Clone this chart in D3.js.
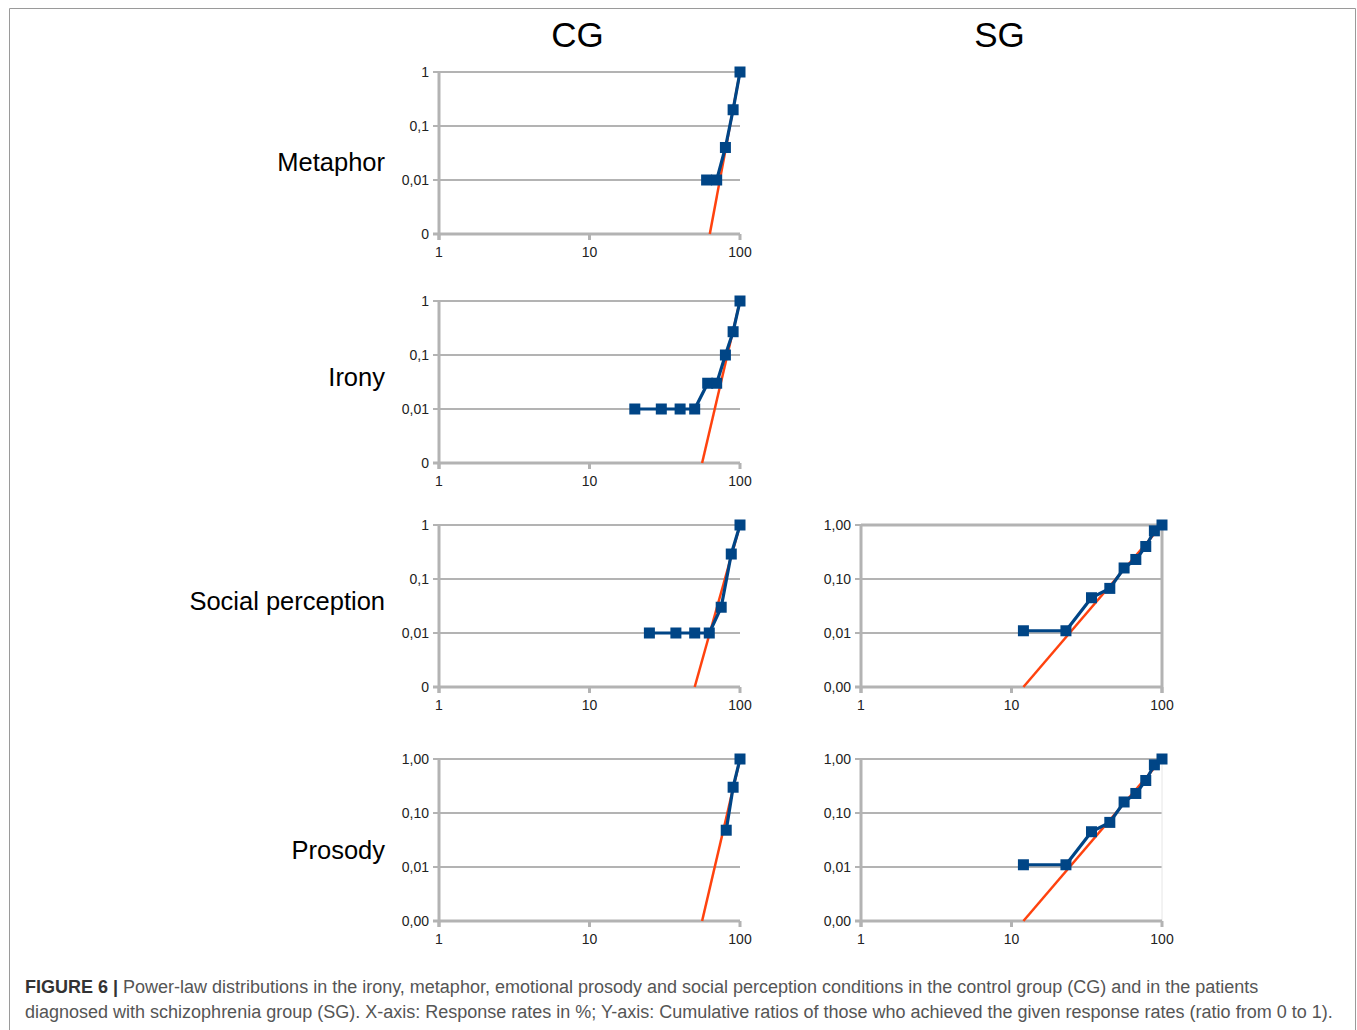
<!DOCTYPE html>
<html>
<head>
<meta charset="utf-8">
<script src="https://cdn.jsdelivr.net/npm/d3@7"></script>
<style>
  body { margin: 0; background: #fff; }
  svg { display: block; }
</style>
</head>
<body>
<svg id="fig" width="1357" height="1030"></svg>
<script>
// Response rates (%) and cumulative ratios
const metaphorCG_x = [60, 70, 80, 90, 100];
const metaphorCG_y = [0.01, 0.01, 0.04, 0.2, 1];
const metaphorCG_fit = [[63, 0.001], [100, 1]];

const ironyCG_x = [20, 30, 40, 50, 61, 70, 80, 90, 100];
const ironyCG_y = [0.01, 0.01, 0.01, 0.01, 0.03, 0.03, 0.1, 0.27, 1];
const ironyCG_fit = [[56, 0.001], [100, 1]];

const socialCG_x = [25, 37.5, 50, 62.5, 75, 87.5, 100];
const socialCG_y = [0.01, 0.01, 0.01, 0.01, 0.03, 0.29, 1];
const socialCG_fit = [[50, 0.001], [100, 1]];

const prosodyCG_x = [81, 90, 100];
const prosodyCG_y = [0.048, 0.3, 1];
const prosodyCG_fit = [[56, 0.001], [100, 1]];

const socialSG_x = [12, 23, 34, 45, 56, 67, 78, 89, 100];
const socialSG_y = [0.011, 0.011, 0.045, 0.067, 0.16, 0.23, 0.4, 0.78, 1];
const socialSG_fit = [[12, 0.001], [100, 1]];

const prosodySG_x = [12, 23, 34, 45, 56, 67, 78, 89, 100];
const prosodySG_y = [0.011, 0.011, 0.045, 0.067, 0.16, 0.23, 0.4, 0.78, 1];
const prosodySG_fit = [[12, 0.001], [100, 1]];

const xTicks = [1, 10, 100];
const xTickLabels = ["1", "10", "100"];
const yTicks = [0.001, 0.01, 0.1, 1];
const yLabelsShort = ["0", "0,01", "0,1", "1"];
const yLabelsLong = ["0,00", "0,01", "0,10", "1,00"];

const columns = ["CG", "SG"];
const rows = ["Metaphor", "Irony", "Social perception", "Prosody"];

const blue = "#004586";
const red = "#ff420e";
const gray = "#b3b3b3";

const svg = d3.select("#fig");

// outer frame of the figure
svg.append("path")
    .attr("d", "M9.5,1030 V8.5 H1355.5 V1030")
    .attr("fill", "none")
    .attr("stroke", "#9a9a9a")
    .attr("stroke-width", 1);

const colLeft = [439, 861];
const rowTop = [72, 301, 525, 759];
const pw = 301, ph = 162;

const panels = [
    {row: 0, col: 0, xs: metaphorCG_x, ys: metaphorCG_y, fit: metaphorCG_fit, labels: yLabelsShort},
    {row: 1, col: 0, xs: ironyCG_x, ys: ironyCG_y, fit: ironyCG_fit, labels: yLabelsShort},
    {row: 2, col: 0, xs: socialCG_x, ys: socialCG_y, fit: socialCG_fit, labels: yLabelsShort},
    {row: 3, col: 0, xs: prosodyCG_x, ys: prosodyCG_y, fit: prosodyCG_fit, labels: yLabelsLong},
    {row: 2, col: 1, xs: socialSG_x, ys: socialSG_y, fit: socialSG_fit, labels: yLabelsLong, frame: "thick"},
    {row: 3, col: 1, xs: prosodySG_x, ys: prosodySG_y, fit: prosodySG_fit, labels: yLabelsLong, frame: "thin"}
];

// column titles
svg.append("g")
    .attr("font-family", "Liberation Sans, Arial, sans-serif")
    .attr("font-size", 35)
    .attr("text-anchor", "middle")
    .selectAll("text")
    .data(columns)
    .join("text")
    .attr("x", (d, i) => colLeft[i] + pw / 2 - 12)
    .attr("y", 47)
    .text(d => d);

// row labels
svg.append("g")
    .attr("font-family", "Liberation Sans, Arial, sans-serif")
    .attr("font-size", 25.5)
    .attr("text-anchor", "end")
    .selectAll("text")
    .data(rows)
    .join("text")
    .attr("x", 385)
    .attr("y", (d, i) => [162, 377, 601, 850][i] + 9)
    .text(d => d);

panels.forEach(p => {
    const left = colLeft[p.col], top = rowTop[p.row];
    const x = d3.scaleLog().domain([1, 100]).range([left, left + pw]);
    const y = d3.scaleLog().domain([0.001, 1]).range([top + ph, top]);
    const g = svg.append("g");

    // horizontal gridlines (with small tick stubs left of the axis)
    g.selectAll(".grid")
        .data(yTicks.slice(1))
        .join("line")
        .attr("x1", left - 6).attr("x2", left + pw)
        .attr("y1", d => y(d)).attr("y2", d => y(d))
        .attr("stroke", gray).attr("stroke-width", 2);

    if (p.frame === "thick") {
        g.append("path")
            .attr("d", `M${left},${y(1)} H${left + pw} V${top + ph + 6}`)
            .attr("fill", "none").attr("stroke", gray).attr("stroke-width", 3);
    } else if (p.frame === "thin") {
        g.append("line")
            .attr("x1", left + pw).attr("x2", left + pw)
            .attr("y1", top).attr("y2", top + ph)
            .attr("stroke", "#e6e6e6").attr("stroke-width", 1);
    }

    // x axis with ticks
    g.append("line")
        .attr("x1", left - 6).attr("x2", left + pw)
        .attr("y1", top + ph).attr("y2", top + ph)
        .attr("stroke", gray).attr("stroke-width", 3);
    g.selectAll(".xt")
        .data(xTicks)
        .join("line")
        .attr("x1", d => x(d)).attr("x2", d => x(d))
        .attr("y1", top + ph).attr("y2", top + ph + 6)
        .attr("stroke", gray).attr("stroke-width", 3);
    // y axis
    g.append("line")
        .attr("x1", left).attr("x2", left)
        .attr("y1", top).attr("y2", top + ph + 6)
        .attr("stroke", gray).attr("stroke-width", 3);

    // tick labels
    g.append("g")
        .attr("font-family", "Liberation Sans, Arial, sans-serif")
        .attr("font-size", 14)
        .attr("fill", "#222")
        .attr("text-anchor", "middle")
        .selectAll("text")
        .data(xTicks)
        .join("text")
        .attr("x", d => x(d))
        .attr("y", top + ph + 23)
        .text((d, i) => xTickLabels[i]);
    g.append("g")
        .attr("font-family", "Liberation Sans, Arial, sans-serif")
        .attr("font-size", 14)
        .attr("fill", "#222")
        .attr("text-anchor", "end")
        .selectAll("text")
        .data(yTicks)
        .join("text")
        .attr("x", left - 10)
        .attr("y", d => y(d) + 5)
        .text((d, i) => p.labels[i]);

    // power-law fit
    g.append("path")
        .datum(p.fit)
        .attr("d", d3.line().x(d => x(d[0])).y(d => y(d[1])))
        .attr("fill", "none").attr("stroke", red).attr("stroke-width", 2.5);

    // observed distribution
    const pts = p.xs.map((v, i) => [v, p.ys[i]]);
    g.append("path")
        .datum(pts)
        .attr("d", d3.line().x(d => x(d[0])).y(d => y(d[1])))
        .attr("fill", "none").attr("stroke", blue).attr("stroke-width", 3.2)
        .attr("stroke-linejoin", "round");
    g.selectAll(".pt")
        .data(pts)
        .join("rect")
        .attr("x", d => x(d[0]) - 5.5).attr("y", d => y(d[1]) - 5.5)
        .attr("width", 11).attr("height", 11)
        .attr("fill", blue);
});

// caption
const cap = svg.append("g")
    .attr("font-family", "Liberation Sans, Arial, sans-serif")
    .attr("font-size", 18)
    .attr("fill", "#555");
const l1 = cap.append("text").attr("x", 25).attr("y", 993);
l1.append("tspan").attr("font-weight", "bold").attr("fill", "#333").text("FIGURE 6 | ");
l1.append("tspan").text("Power-law distributions in the irony, metaphor, emotional prosody and social perception conditions in the control group (CG) and in the patients");
cap.append("text").attr("x", 25).attr("y", 1018)
    .text("diagnosed with schizophrenia group (SG). X-axis: Response rates in %; Y-axis: Cumulative ratios of those who achieved the given response rates (ratio from 0 to 1).");
</script>
</body>
</html>
